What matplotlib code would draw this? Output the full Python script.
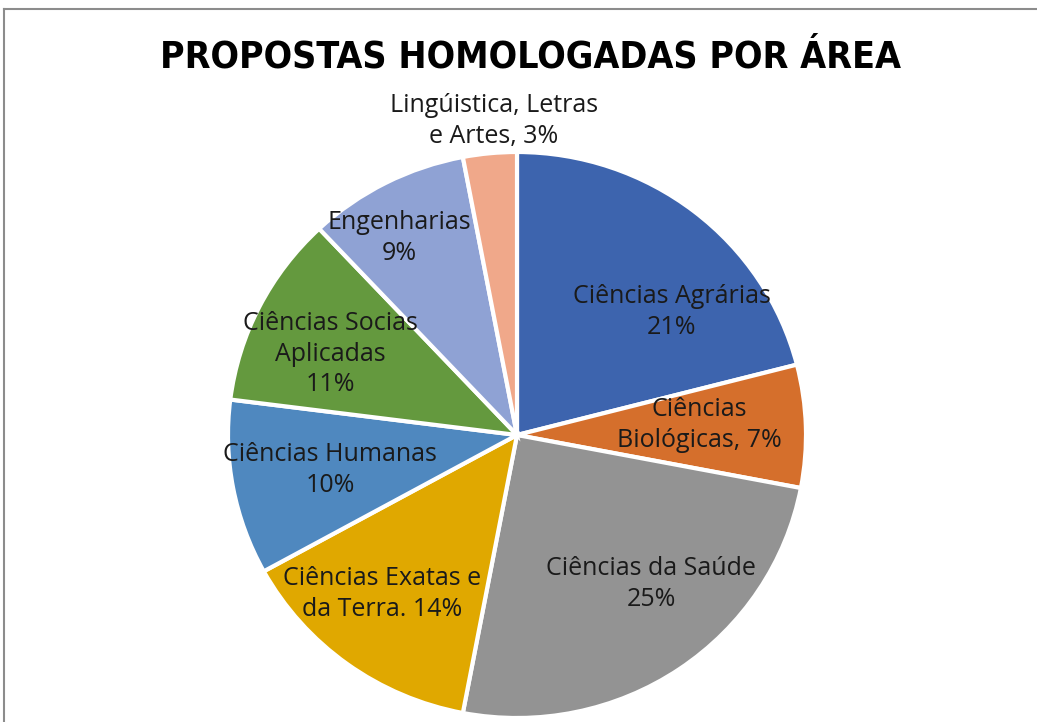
import matplotlib
matplotlib.use('Agg')
import matplotlib.pyplot as plt
from matplotlib import font_manager
from matplotlib.lines import Line2D

# ----------------------------------------------------------------
# Dados: propostas homologadas por área (%)
# ----------------------------------------------------------------
areas = ['Ciências Agrárias', 'Ciências Biológicas', 'Ciências da Saúde',
         'Ciências Exatas e da Terra', 'Ciências Humanas',
         'Ciências Socias Aplicadas', 'Engenharias',
         'Lingúistica, Letras e Artes']
percentuais = [21, 7, 25, 14, 10, 11, 9, 3]
rotulos = ['Ciências Agrárias\n21%', 'Ciências\nBiológicas, 7%',
           'Ciências da Saúde\n25%', 'Ciências Exatas e\nda Terra. 14%',
           'Ciências Humanas\n10%', 'Ciências Socias\nAplicadas\n11%',
           'Engenharias\n9%', 'Lingúistica, Letras\ne Artes, 3%']

cores = ['#3d64ae', '#d56f2c', '#939393', '#e0a800',
         '#4f88bf', '#64993e', '#8fa2d4', '#f0a88a']

# posição dos rótulos (fração do raio), como no gráfico original
pos_rotulos = [(0.536, 0.435), (0.630, 0.035), (0.464, -0.527), (-0.467, -0.562),
               (-0.647, -0.124), (-0.647, 0.286), (-0.408, 0.696), (-0.080, 1.110)]

# fonte estreita para o título, se houver alguma instalada
fonte_titulo = 'Liberation Sans'
largura_fonte = 'normal'
for f in font_manager.fontManager.ttflist:
    nome = (f.name + ' ' + f.fname).lower()
    if ('condensed' in nome or 'narrow' in nome) and f.weight in (700, 'bold'):
        fonte_titulo = f.name
        largura_fonte = f.stretch
        break

fig = plt.figure(figsize=(10.37, 7.22), dpi=100)

# moldura (cortada pela captura)
fig.add_artist(Line2D([4 / 1037, 1], [1 - 9 / 722, 1 - 9 / 722],
                      color='#8c8c8c', lw=1.5))
fig.add_artist(Line2D([4 / 1037, 4 / 1037], [0, 1 - 9 / 722],
                      color='#8c8c8c', lw=1.5))

# eixo posicionado para a pizza ocupar a mesma área
cx, cy, rx, ry = 517, 435, 289, 283
ax = fig.add_axes([(cx - rx) / 1037, (722 - cy - ry) / 722, 2 * rx / 1037, 2 * ry / 722])

ax.pie(percentuais, colors=cores, startangle=90, counterclock=False,
       wedgeprops=dict(edgecolor='white', linewidth=3))
ax.set_aspect('auto')
ax.set_xlim(-1, 1)
ax.set_ylim(-1, 1)
ax.axis('off')

for txt, (x, y) in zip(rotulos, pos_rotulos):
    ax.text(x, y, txt, ha='center', va='center', fontsize=18,
            family=['Open Sans', 'DejaVu Sans'], color='#1a1a1a',
            linespacing=1.3, clip_on=False)

titulo = fig.text(530 / 1037, 1 - 57 / 722, 'PROPOSTAS HOMOLOGADAS POR ÁREA',
                  ha='center', va='center', fontsize=30, fontweight='bold',
                  fontstretch=largura_fonte,
                  family=[fonte_titulo, 'DejaVu Sans'], color='black')

# ajusta o tamanho do título à largura do original (~740 px)
fig.canvas.draw()
largura = titulo.get_window_extent().width
if largura > 750:
    titulo.set_fontsize(30 * 740 / largura)

plt.savefig('out.png', dpi=100)
plt.close()
